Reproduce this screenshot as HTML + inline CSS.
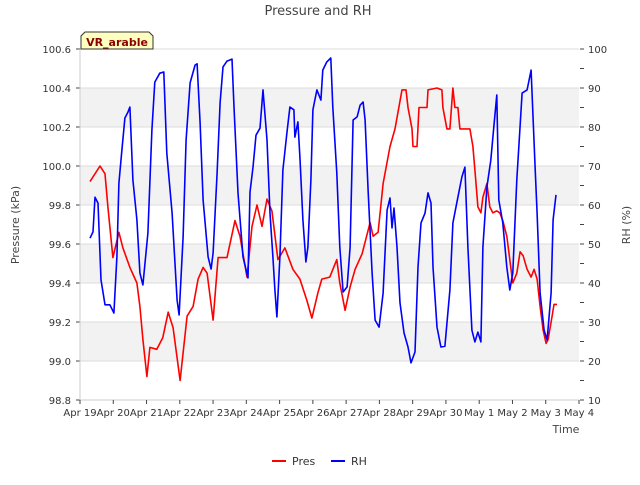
<!DOCTYPE html>
<html><head><meta charset="utf-8"><style>
body{margin:0;background:#fff;font-family:"Liberation Sans","DejaVu Sans",sans-serif}
svg text{font-family:"DejaVu Sans","Liberation Sans",sans-serif}
</style></head><body>
<svg id="chart" width="640" height="480" viewBox="0 0 640 480" xmlns="http://www.w3.org/2000/svg">
<text x="318" y="15" text-anchor="middle" font-size="13" fill="#444">Pressure and RH</text>
<g id="grid"></g>
<g id="axes"></g>
<g id="series"></g>
<g>
<path d="M81,49 V36 L85,32 H149 L153,36 V49 Z" fill="#ffffc0" stroke="#333" stroke-width="1"/>
<text x="117" y="46" text-anchor="middle" font-size="11" font-weight="bold" fill="#8b0000">VR_arable</text>
</g>
<text transform="translate(19,225) rotate(-90)" text-anchor="middle" font-size="11" fill="#444">Pressure (kPa)</text>
<text transform="translate(630,225) rotate(-90)" text-anchor="middle" font-size="11" fill="#444">RH (%)</text>
<text x="566" y="433" text-anchor="middle" font-size="11" fill="#444">Time</text>
<g>
<g><line x1="272" y1="461" x2="286" y2="461" stroke="#f00" stroke-width="2"/><text x="292" y="465" font-size="11" fill="#333">Pres</text></g>
<g><line x1="331" y1="461" x2="345" y2="461" stroke="#00f" stroke-width="2"/><text x="351" y="465" font-size="11" fill="#333">RH</text></g>
</g>
</svg>
<script>
const xLabels=["Apr 19","Apr 20","Apr 21","Apr 22","Apr 23","Apr 24","Apr 25","Apr 26","Apr 27","Apr 28","Apr 29","Apr 30","May 1","May 2","May 3","May 4"];
const presTicks=[98.8,99.0,99.2,99.4,99.6,99.8,100.0,100.2,100.4,100.6];
const rhTicks=[10,20,30,40,50,60,70,80,90,100];
const presT=[.30,.60,.75,.84,.99,1.17,1.29,1.50,1.71,1.80,1.89,2.01,2.10,2.31,2.49,2.65,2.80,3.01,3.22,3.40,3.55,3.70,3.82,4.00,4.15,4.42,4.66,4.81,5.02,5.17,5.32,5.47,5.62,5.77,5.95,6.16,6.40,6.61,6.82,6.97,7.15,7.27,7.51,7.72,7.81,7.97,8.12,8.27,8.48,8.72,8.81,8.96,9.11,9.32,9.47,9.68,9.80,9.86,9.98,10.01,10.13,10.19,10.43,10.46,10.73,10.88,10.91,11.03,11.12,11.21,11.27,11.36,11.42,11.72,11.81,11.87,11.96,12.05,12.11,12.23,12.32,12.41,12.53,12.62,12.71,12.83,12.92,13.01,13.13,13.23,13.32,13.44,13.56,13.65,13.74,13.83,13.92,14.01,14.07,14.19,14.25,14.34];
const presV=[99.92,100.00,99.96,99.79,99.53,99.66,99.58,99.48,99.40,99.28,99.11,98.92,99.07,99.06,99.12,99.25,99.17,98.90,99.23,99.28,99.42,99.48,99.45,99.21,99.53,99.53,99.72,99.64,99.43,99.69,99.80,99.69,99.83,99.77,99.52,99.58,99.47,99.42,99.31,99.22,99.35,99.42,99.43,99.52,99.40,99.26,99.38,99.47,99.55,99.71,99.64,99.66,99.91,100.10,100.19,100.39,100.39,100.30,100.19,100.10,100.10,100.30,100.30,100.39,100.40,100.39,100.30,100.19,100.19,100.40,100.30,100.30,100.19,100.19,100.10,99.98,99.79,99.76,99.84,99.91,99.79,99.76,99.77,99.76,99.72,99.64,99.52,99.40,99.45,99.56,99.54,99.47,99.43,99.47,99.42,99.28,99.16,99.09,99.11,99.23,99.29,99.29];
const rhT=[.30,.39,.45,.54,.63,.75,.90,1.02,1.11,1.17,1.26,1.35,1.44,1.50,1.59,1.71,1.80,1.89,2.04,2.16,2.25,2.40,2.52,2.61,2.77,2.92,2.98,3.10,3.19,3.31,3.46,3.52,3.61,3.70,3.85,3.94,4.00,4.12,4.21,4.30,4.42,4.57,4.63,4.75,4.90,5.05,5.11,5.20,5.29,5.41,5.50,5.62,5.71,5.80,5.86,5.92,6.01,6.10,6.22,6.31,6.43,6.46,6.55,6.61,6.70,6.79,6.85,6.94,7.00,7.12,7.24,7.30,7.42,7.54,7.60,7.72,7.81,7.91,8.03,8.12,8.21,8.33,8.42,8.51,8.57,8.66,8.78,8.87,8.99,9.11,9.23,9.32,9.38,9.44,9.53,9.62,9.74,9.86,9.95,10.07,10.16,10.25,10.37,10.46,10.55,10.61,10.73,10.85,10.97,11.12,11.21,11.36,11.48,11.57,11.66,11.78,11.87,11.96,12.05,12.11,12.23,12.35,12.44,12.53,12.59,12.71,12.83,12.92,13.01,13.13,13.29,13.44,13.56,13.68,13.74,13.83,13.95,14.04,14.16,14.22,14.31];
const rhV=[51.5,53.1,62.0,60.5,40.8,34.4,34.4,32.3,46.7,65.6,74.1,82.3,83.8,85.1,66.4,56.2,42.6,39.5,52.8,79.2,91.5,93.8,94.1,73.3,57.9,35.6,31.8,51.8,76.7,91.3,95.9,96.2,81.0,61.3,46.7,43.6,47.7,68.2,86.2,95.4,96.9,97.4,85.1,63.1,46.7,41.3,63.3,69.7,77.9,79.7,89.5,76.7,57.9,46.7,38.2,31.3,46.7,69.0,78.5,85.1,84.4,77.4,81.3,72.3,56.2,45.4,49.2,66.4,84.4,89.5,86.9,94.6,96.7,97.7,85.1,68.2,49.2,37.7,39.0,49.2,81.8,82.6,85.6,86.4,81.8,63.8,42.6,30.5,28.7,37.4,58.7,61.8,54.1,59.2,49.2,34.9,27.2,23.6,19.5,22.3,44.1,55.4,57.9,63.1,60.5,44.1,28.7,23.6,23.8,38.2,55.4,62.0,67.2,69.7,49.2,27.9,24.9,27.4,24.9,49.2,64.6,71.5,80.0,88.2,61.3,55.4,44.1,38.2,42.6,66.4,88.7,89.5,94.6,69.7,57.9,37.4,27.9,25.4,37.4,56.2,62.6];

const NS="http://www.w3.org/2000/svg";
const X0=80,X1=579,Y0=400,Y1=49;
const xs=t=>X0+t*(X1-X0)/15;
const yp=v=>Y0-(v-98.8)*(Y0-Y1)/1.8;
const yr=v=>Y0-(v-10)*(Y0-Y1)/90;
function mk(tag,attrs,parent){const e=document.createElementNS(NS,tag);for(const k in attrs)e.setAttribute(k,attrs[k]);parent.appendChild(e);return e;}
const grid=document.getElementById('grid'),axes=document.getElementById('axes'),series=document.getElementById('series');
for(let i=0;i<presTicks.length-1;i++){
  if(i%2===1){const r=mk('rect',{x:X0,y:yp(presTicks[i+1]),width:X1-X0,height:yp(presTicks[i])-yp(presTicks[i+1]),fill:'#f2f2f2'},grid);
  
  }
}
presTicks.forEach(v=>{
  const y=yp(v);
  const l=mk('line',{x1:X0,x2:X1,y1:y,y2:y,stroke:'#dcdcdc','stroke-width':1},grid);
  
  
  mk('line',{x1:X0-4,x2:X0,y1:y,y2:y,stroke:'#444'},axes);
  const t=mk('text',{x:X0-9,y:y+4,'text-anchor':'end','font-size':'10',fill:'#333'},axes);
  t.textContent=v.toFixed(1);
  
  
});
for(let v=10;v<=100;v+=5){
  const y=yr(v);
  mk('line',{x1:X1+1,x2:X1+5,y1:y,y2:y,stroke:'#444'},axes);
}
rhTicks.forEach(v=>{
  const t=mk('text',{x:X1+9,y:yr(v)+4,'font-size':'10',fill:'#333'},axes);
  t.textContent=v;
  
  
});
mk('line',{x1:X0,x2:X0,y1:Y1,y2:Y0,stroke:'#ccc'},axes);
mk('line',{x1:X0,x2:X1,y1:Y0,y2:Y0,stroke:'#ccc'},axes);
xLabels.forEach((s,i)=>{
  const x=xs(i);
  mk('line',{x1:x,x2:x,y1:Y0,y2:Y0+4,stroke:'#444'},axes);
  const t=mk('text',{x:x,y:Y0+16,'text-anchor':'middle','font-size':'10',fill:'#333'},axes);
  t.textContent=s;
  
  
});
const pp=mk('polyline',{points:presT.map((t,i)=>xs(t).toFixed(1)+','+yp(presV[i]).toFixed(1)).join(' '),fill:'none',stroke:'#f00','stroke-width':1.6,'stroke-linejoin':'round'},series);


const rp=mk('polyline',{points:rhT.map((t,i)=>xs(t).toFixed(1)+','+yr(rhV[i]).toFixed(1)).join(' '),fill:'none',stroke:'#00f','stroke-width':1.6,'stroke-linejoin':'round'},series);


</script>
</body></html>
